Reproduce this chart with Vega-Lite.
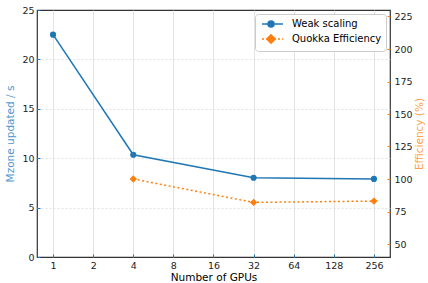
{
  "$schema": "https://vega.github.io/schema/vega-lite/v6.json",
  "width": 353,
  "height": 247,
  "padding": {"left": 5, "top": 5, "right": 0, "bottom": 0},
  "background": "white",
  "config": {
    "font": "DejaVu Sans",
    "view": {"stroke": "#333", "strokeWidth": 1.2},
    "axis": {"labelFont": "DejaVu Sans", "titleFont": "DejaVu Sans", "labelFontSize": 9.5, "titleFontSize": 10.5, "titleFontWeight": "normal", "labelColor": "#222", "domain": false, "tickSize": -3, "labelPadding": 6, "gridColor": "#dcdcdc", "gridWidth": 0.8},
    "legend": {"labelFont": "DejaVu Sans", "labelFontSize": 10}
  },
  "data": {"values": [
    {"gpus": 1, "value": 22.5, "series": "Weak scaling"},
    {"gpus": 4, "value": 10.35, "series": "Weak scaling"},
    {"gpus": 32, "value": 8.02, "series": "Weak scaling"},
    {"gpus": 256, "value": 7.9, "series": "Weak scaling"},
    {"gpus": 4, "value": 100, "series": "Quokka Efficiency"},
    {"gpus": 32, "value": 82, "series": "Quokka Efficiency"},
    {"gpus": 256, "value": 83, "series": "Quokka Efficiency"}
  ]},
  "encoding": {
    "x": {"field": "gpus", "type": "quantitative",
      "scale": {"type": "log", "base": 2, "domain": [0.758, 337.8], "nice": false},
      "axis": {"title": "Number of GPUs", "values": [1,2,4,8,16,32,64,128,256], "format": "d", "tickColor": "#1f77b4", "titlePadding": 3, "gridDash": []}
    },
    "color": {"field": "series", "type": "nominal",
      "scale": {"domain": ["Weak scaling", "Quokka Efficiency"], "range": ["#1f77b4", "#ff7f0e"]},
      "legend": {"title": null, "orient": "top-right", "offset": 4, "strokeColor": "#cccccc", "fillColor": "white", "padding": 4, "cornerRadius": 3, "symbolSize": 100, "rowPadding": 1, "labelOffset": 21,
        "encode": {"symbols": {"update": {
          "shape": {"signal": "datum.value === 'Weak scaling' ? 'M-0.6,0H3.6M1.8,0A0.6,0.6 0 1 1 0.6,0A0.6,0.6 0 1 1 1.8,0Z' : 'M-0.6,0H-0.2M0.2,0H0.6M1,0H1.4M1.8,0H2.2M2.6,0H3M3.4,0H3.6M1.2,-0.85L2.05,0L1.2,0.85L0.35,0Z'"},
          "strokeWidth": {"value": 1.5}
        }}}
      }
    }
  },
  "layer": [
    {
      "transform": [{"filter": "datum.series === 'Weak scaling'"}],
      "mark": {"type": "line", "strokeWidth": 1.5, "point": {"filled": true, "size": 38}},
      "encoding": {
        "y": {"field": "value", "type": "quantitative",
          "scale": {"domain": [0, 25], "nice": false},
          "axis": {"title": "Mzone updated / s", "titleColor": "#4f97cf", "values": [0,5,10,15,20,25], "tickColor": "#1f77b4", "gridDash": [2,2], "titlePadding": 6,
            "gridColor": {"condition": {"test": "datum.value === 0 || datum.value === 25", "value": "transparent"}, "value": "#dcdcdc"}}
        }
      }
    },
    {
      "transform": [{"filter": "datum.series === 'Quokka Efficiency'"}],
      "mark": {"type": "line", "strokeWidth": 1.5, "strokeDash": [2, 2.5], "point": {"filled": true, "size": 55, "shape": "diamond"}},
      "encoding": {
        "y": {"field": "value", "type": "quantitative",
          "scale": {"domain": [40, 230], "nice": false},
          "axis": {"orient": "right", "title": "Efficiency (%)", "titleColor": "#ff9f4a", "titleAngle": 270, "titleBaseline": "top", "values": [50,75,100,125,150,175,200,225], "tickColor": "#ff7f0e", "gridDash": [2,2], "labelPadding": 7, "titlePadding": 2}
        }
      }
    }
  ],
  "resolve": {"scale": {"y": "independent"}, "axis": {"y": "independent"}}
}
